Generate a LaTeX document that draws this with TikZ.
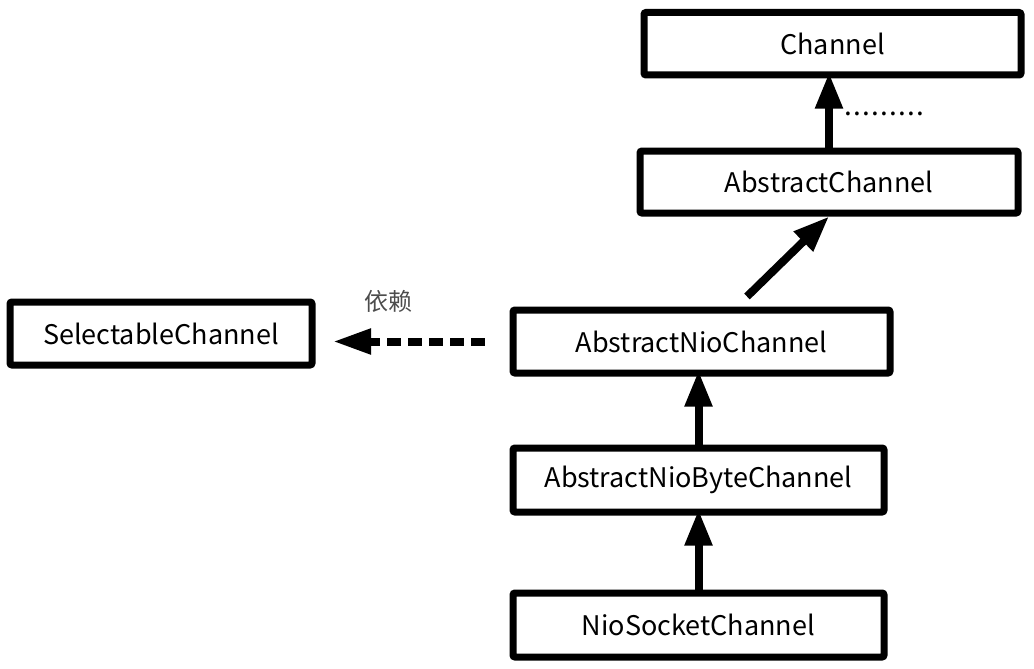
\documentclass[tikz,border=0pt]{standalone}
\usepackage{fontspec}
\setmainfont{Noto Sans CJK SC}
\usepackage{tikz}
\usetikzlibrary{arrows.meta}

\begin{document}
\begin{tikzpicture}[x=1pt, y=-1pt,
        cls/.style={draw=black, line width=7pt, rounded corners=2pt, fill=white, text=black, inner sep=0pt, font=\fontsize{27}{32}\selectfont},
        inherit/.style={line width=8pt, shorten >=-6pt, -{Triangle[length=36pt, width=26pt]}},
        depend/.style={line width=8pt, dash pattern=on 14pt off 7pt, -{Triangle[length=38pt, width=24pt]}}]

        \useasboundingbox (0,0) rectangle (1034,669);

        %% Classes
        \node (ch) [cls, minimum width=377pt, minimum height=62.5pt] at (832.5,43.75) {Channel};
        \node (ach) [cls, minimum width=378pt, minimum height=62pt] at (829,182) {AbstractChannel};
        \node (anc) [cls, minimum width=377pt, minimum height=63pt] at (701.5,341.5) {AbstractNioChannel};
        \node (anbc) [cls, minimum width=371pt, minimum height=64pt] at (698.5,480) {AbstractNioByteChannel};
        \node (nsc) [cls, minimum width=371pt, minimum height=64pt] at (698.5,625) {NioSocketChannel};
        \node (sc) [cls, minimum width=302pt, minimum height=63pt] at (161,333.5) {SelectableChannel};

        %% Labels
        \node (more) [font=\fontsize{28}{30}\selectfont] at (884,114) {\makebox[81pt]{\xleaders\hbox to 9pt{\hss.\hss}\hfill}};
        \node (dep) [text=black!70, font=\fontsize{24}{28}\selectfont] at (388,301) {依赖};

        %% Inheritance
        \draw [inherit] (ach.north) -- (ach.north |- ch.south);
        \draw [inherit, shorten >=0pt] ([xshift=45.5pt, yshift=10pt]anc.north) -- (ach.south);
        \draw [inherit] (anbc.north) -- (anbc.north |- anc.south);
        \draw [inherit] (nsc.north) -- (nsc.north |- anbc.south);

        %% Dependency
        \draw [depend, shorten <=25pt, shorten >=17.5pt] (anc.west) -- (anc.west -| sc.east);

\end{tikzpicture}
\end{document}
